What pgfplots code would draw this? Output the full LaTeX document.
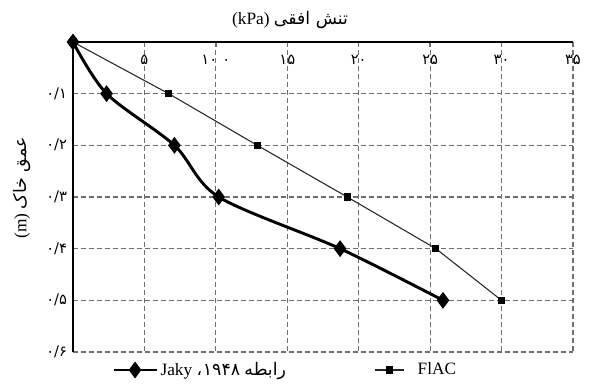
\documentclass[border=0pt]{standalone}
\usepackage{fontspec}
\setmainfont{Liberation Serif}
\usepackage{pgfplots}
\pgfplotsset{compat=1.18}
\TeXXeTstate=1
\newfontfamily\arabicfont[Script=Arabic]{DejaVu Sans}
\definecolor{gridgray}{RGB}{110,110,110}
\pgfplotsset{
  jakyleg/.style={legend image code/.code={\draw[##1, mark repeat=2, mark phase=2] plot coordinates {(0pt,0pt) (16pt,0pt) (32pt,0pt)};}},
  flacleg/.style={legend image code/.code={\draw[##1, mark repeat=2, mark phase=2] plot coordinates {(0pt,0pt) (11pt,0pt) (22pt,0pt)};}},
}
\begin{document}
\fontsize{13}{15}\selectfont
\begin{tikzpicture}
\useasboundingbox (-54.75pt,-24.75pt) rectangle (390.75pt,264pt);
\begin{axis}[
  at={(0,0)}, anchor=south west,
  scale only axis, width=375pt, height=232.5pt,
  xmin=0, xmax=35, ymin=0, ymax=0.6,
  y dir=reverse,
  axis x line=top, axis y line=left,
  axis line style={-, line width=2.2pt, black},
  xtick={5,10,15,20,25,30,35},
  xticklabels={{\arabicfont ۵},{\arabicfont ۱۰\hspace{0.35em}۰},{\arabicfont ۱۵},{\arabicfont ۲۰},{\arabicfont ۲۵},{\arabicfont ۳۰},{\arabicfont ۳۵}},
  ytick={0.1,0.2,0.3,0.4,0.5,0.6},
  yticklabels={{\arabicfont ۰/۱},{\arabicfont ۰/۲},{\arabicfont ۰/۳},{\arabicfont ۰/۴},{\arabicfont ۰/۵},{\arabicfont ۰/۶}},
  xticklabel style={font=\fontsize{11}{13}\selectfont, anchor=north, yshift=-5pt},
  yticklabel style={font=\fontsize{11}{13}\selectfont},
  tick align=inside,
  major tick length=3.75pt,
  xtick style={gridgray, line width=1pt},
  ytick style={draw=none},
  grid=major,
  major grid style={gridgray, dashed, line width=0.9pt, dash pattern=on 3.5pt off 2.5pt},
  clip=false,
  legend style={draw=none, fill=none, at={(0.078,-0.058)}, anchor=west, legend columns=2,
    inner sep=0pt, font=\fontsize{13}{15}\selectfont,
    /tikz/every even column/.append style={column sep=64pt}},
  legend cell align=left,
]
\addplot[black, line width=2.2pt, smooth, mark=diamond*, mark size=4.5pt, mark options={solid}, jakyleg]
  coordinates {(0,0) (2.35,0.1) (7.1,0.2) (10.2,0.3) (18.7,0.4) (25.9,0.5)};
\addlegendentry{Jaky \mbox{\arabicfont ،}\kern0.5pt\mbox{\arabicfont ۱۹۴۸} \mbox{\arabicfont\beginR رابطه\endR}}
\addplot[black!85, line width=0.8pt, mark=square*, mark size=2.3pt, mark options={solid, black}, flacleg]
  coordinates {(0,0) (6.7,0.1) (12.9,0.2) (19.2,0.3) (25.4,0.4) (30.0,0.5)};
\addlegendentry{\hspace{8pt}FlAC}
\node[font=\fontsize{13}{15}\selectfont] at (axis description cs:0.434,1.071) {(kPa) {\arabicfont\beginR تنش افقی\endR}};
\node[font=\fontsize{13}{15}\selectfont, rotate=90] at (axis description cs:-0.102,0.529) {(m) {\arabicfont\beginR عمق خاک\endR}};
\end{axis}
\end{tikzpicture}
\end{document}
